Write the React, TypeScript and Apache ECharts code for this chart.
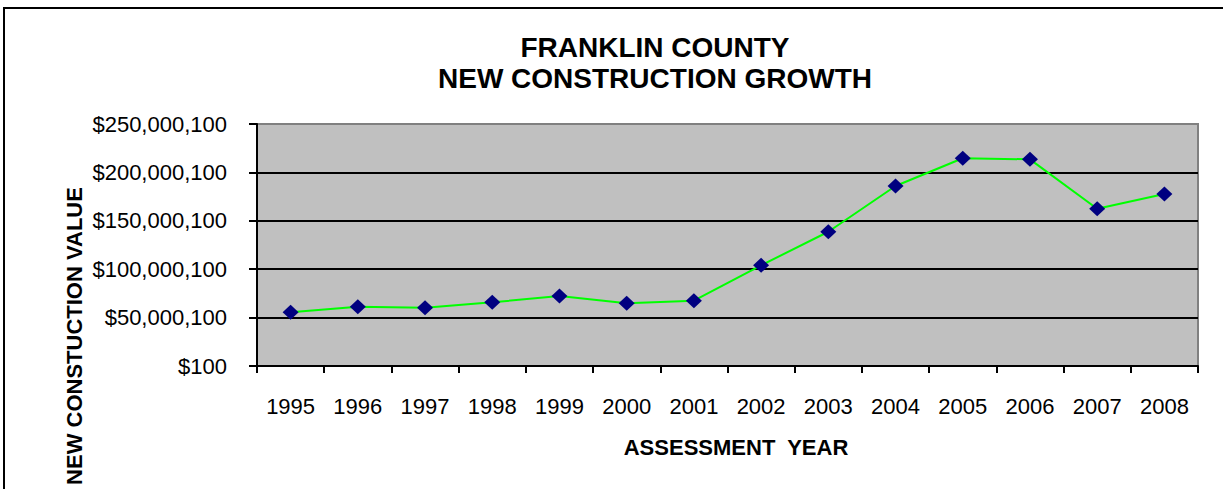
import React, { useEffect, useRef } from "react";
import * as echarts from "echarts";

const years = ["1995", "1996", "1997", "1998", "1999", "2000", "2001", "2002", "2003", "2004", "2005", "2006", "2007", "2008"];
const newConstructionValues = [
  55500000, 61300000, 60200000, 65800000, 72300000, 64800000, 67500000,
  104000000, 138700000, 186000000, 214600000, 213500000, 162500000, 177700000,
];
const yMin = 100;
const yMax = 250000100;
const yStep = 50000000;
const titleLines = ["FRANKLIN COUNTY", "NEW CONSTRUCTION GROWTH"];
const xAxisTitle = "ASSESSMENT  YEAR";
const yAxisTitle = "NEW CONSTUCTION VALUE";

const FONT = "'Liberation Sans', Arial, sans-serif";

export default function App() {
  const ref = useRef<HTMLDivElement>(null);
  useEffect(() => {
    if (!ref.current) return;
    const chart = echarts.init(ref.current, null, { renderer: "svg" });
    chart.setOption({
      animation: false,
      backgroundColor: "#ffffff",
      title: {
        text: titleLines.join("\n"),
        left: 655,
        top: 32,
        textAlign: "center",
        padding: 0,
        textStyle: {
          fontFamily: FONT,
          fontWeight: "bold",
          fontSize: 28,
          lineHeight: 31,
          color: "#000",
        },
      },
      grid: {
        left: 257,
        top: 124,
        right: 25,
        bottom: 123,
        show: true,
        backgroundColor: "#C0C0C0",
        borderColor: "#808080",
        borderWidth: 2,
      },
      xAxis: {
        type: "category",
        data: years,
        boundaryGap: true,
        name: xAxisTitle,
        nameLocation: "middle",
        nameGap: 70,
        nameTextStyle: {
          fontFamily: FONT,
          fontWeight: "bold",
          fontSize: 22,
          color: "#000",
          padding: [0, 0, 0, 17],
        },
        axisLine: { show: true, lineStyle: { color: "#000", width: 2 } },
        axisTick: { show: true, inside: false, length: 7, alignWithLabel: false, lineStyle: { color: "#000", width: 2 } },
        axisLabel: {
          fontFamily: FONT,
          fontSize: 22,
          color: "#000",
          margin: 29,
          interval: 0,
        },
        splitLine: { show: false },
      },
      yAxis: {
        type: "value",
        min: yMin,
        max: yMax,
        interval: yStep,
        axisLine: { show: true, lineStyle: { color: "#000", width: 2 } },
        axisTick: { show: true, inside: false, length: 8, lineStyle: { color: "#000", width: 2 } },
        axisLabel: {
          fontFamily: FONT,
          fontSize: 22,
          color: "#000",
          margin: 30,
          formatter: (v: number) => "$" + Math.round(v).toLocaleString("en-US"),
        },
        splitLine: {
          show: true,
          lineStyle: {
            color: ["#000", "#000", "#000", "#000", "#000", "#808080"],
            width: 2,
          },
        },
      },
      series: [
        {
          type: "line",
          data: newConstructionValues,
          lineStyle: { color: "#00FF00", width: 2 },
          itemStyle: { color: "#000080" },
          symbol: "diamond",
          symbolSize: [16, 15],
          showSymbol: true,
          z: 3,
        },
      ],
      graphic: [
        {
          type: "rect",
          shape: { x: 4, y: 8, width: 1400, height: 700 },
          style: { fill: "none", stroke: "#000", lineWidth: 2 },
          silent: true,
          z: 100,
        },
        {
          type: "text",
          x: 74,
          y: 336,
          rotation: Math.PI / 2,
          style: {
            text: yAxisTitle,
            fontFamily: FONT,
            fontWeight: "bold",
            fontSize: 22,
            fill: "#000",
            align: "center",
            verticalAlign: "middle",
          },
        },
      ],
    });
    return () => chart.dispose();
  }, []);
  return (
    <div
      ref={ref}
      style={{ position: "absolute", left: 0, top: 0, width: 1223, height: 489, background: "#fff" }}
    />
  );
}
